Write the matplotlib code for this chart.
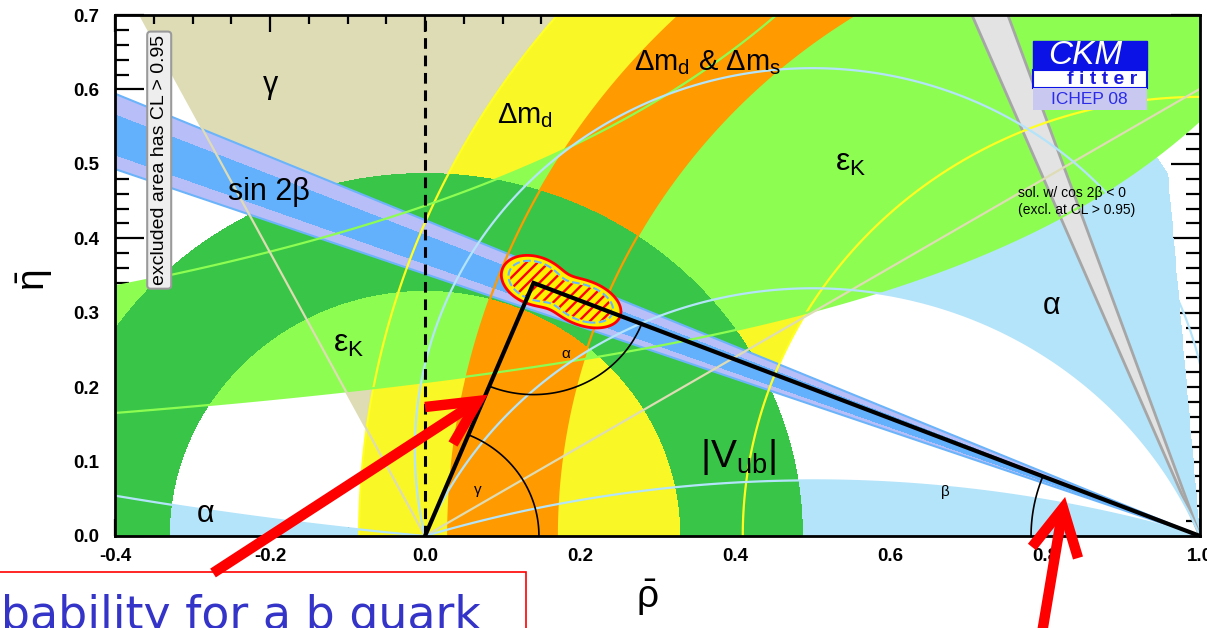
import numpy as np
import matplotlib
matplotlib.use("Agg")
import matplotlib.pyplot as plt
from matplotlib.patches import Rectangle
from matplotlib.ticker import MultipleLocator, FormatStrFormatter

# ---- constraints, (rho-bar, eta-bar) plane -------------------------------
GAMMA_DEG = [31.0, 117.7]                       # wedge from (0,0)
ALPHA_BANDS = [[0.0, 5.5], [68.0, 112.7], [163.0, 180.0]]  # angle seen at P
ALPHA_LINES = [5.5, 77.0, 112.7, 163.0]
ALPHA_STRIP = 0.085                             # white strip along rho = 1
DMD_R = [0.59, 1.085]                           # annulus around (1,0)
DMS_R = [0.83, 0.97]
EPSK_LO = [1.588, 0.3286]                       # eta*(c - rho) = k
EPSK_HI = [1.2386, 0.5496]
VUB_R = [0.33, 0.487]                           # annulus around (0,0)
SIN2B_95 = [19.4, 23.0]                         # beta, ray from (1,0)
SIN2B_68 = [20.1, 22.0]
COS2B_NEG = [67.2, 70.5]                        # gray wedge, beta
APEX = [0.14, 0.34]
FIT_LOBES = [[0.142, 0.343, 0.045, 0.032], [0.205, 0.313, 0.050, 0.030]]
FIT_TILT = -21.6
FIT_LEVELS = [0.55, 0.62, 1.0]                  # hatched, dashed, outline

# annotation overlay (figure pixels)
ARROW_1 = [(213, 573), (478, 401)]
HEAD_1 = [(425, 407), (478, 401), (453, 444)]
ARROW_2 = [(1040, 645), (1063, 508)]
HEAD_2 = [(1032, 547), (1063, 508), (1078, 558)]

C_TAN, C_LBLUE, C_YEL = "#dedcb4", "#b4e4fa", "#f9f725"
C_LGREEN, C_ORANGE, C_DGREEN = "#8dfd52", "#ff9a00", "#38c548"
C_LAV, C_BLUE = "#b8bef8", "#63b1fd"

plt.rcParams.update({
    "font.family": ["Liberation Sans", "DejaVu Sans"],
    "mathtext.fontset": "custom",
    "mathtext.rm": "Liberation Sans",
    "mathtext.it": "Liberation Sans:italic",
    "mathtext.bf": "Liberation Sans:bold",
    "mathtext.default": "rm",
    "hatch.color": "red",
    "hatch.linewidth": 1.7,
    "axes.unicode_minus": False,
})

fig = plt.figure(figsize=(12.07, 6.28), dpi=100)
ax = fig.add_axes([0.0953, 0.1465, 0.8989, 0.8296])
ax.set_xlim(-0.4, 1.0)
ax.set_ylim(0.0, 0.7)

rho = np.linspace(-0.4, 1.0, 1401)
eta = np.linspace(0.0, 0.7, 701)
R, E = np.meshgrid(rho, eta)
gam = np.degrees(np.arctan2(E, R))
bet = np.degrees(np.arctan2(E, 1 - R))
alp = 180 - gam - bet
r0 = np.hypot(R, E)
r1 = np.hypot(R - 1, E)
ek_lo = E * (EPSK_LO[0] - R) - EPSK_LO[1]
ek_hi = EPSK_HI[1] - E * (EPSK_HI[0] - R)
epsk = np.minimum(ek_lo, ek_hi)
alp_m = np.ma.masked_where(R > 1 - ALPHA_STRIP * E, alp)


def fill(field, lo, hi, color, z):
    ax.contourf(R, E, field, levels=[lo, hi], colors=[color], zorder=z)


# ---- filled constraints, back to front ----
fill(gam, GAMMA_DEG[0], GAMMA_DEG[1], C_TAN, 1)
for lo, hi in ALPHA_BANDS:
    fill(alp_m, lo, hi, C_LBLUE, 2)
fill(r1, DMD_R[0], DMD_R[1], C_YEL, 3)
fill(epsk, 0, 10, C_LGREEN, 4)
fill(r1, DMS_R[0], DMS_R[1], C_ORANGE, 5)
fill(r0, VUB_R[0], VUB_R[1], C_DGREEN, 6)
fill(bet, SIN2B_95[0], SIN2B_95[1], C_LAV, 7)
fill(bet, SIN2B_68[0], SIN2B_68[1], C_BLUE, 7.1)
ax.contour(R, E, bet, levels=SIN2B_95, colors="#6cb4fa", linewidths=1.5, zorder=7.2)
fill(bet, COS2B_NEG[0], COS2B_NEG[1], "#e3e3e3", 8)
ax.contour(R, E, bet, levels=COS2B_NEG, colors="#a6a6a6", linewidths=2, zorder=8.1)

# ---- CL contour lines drawn on top ----
lw = 1.6
ax.contour(R, E, r1, levels=DMD_R, colors="#ffff22", linewidths=lw, zorder=9)
ax.contour(R, E, r1, levels=DMS_R, colors=C_ORANGE, linewidths=lw, zorder=9)
ax.contour(R, E, ek_lo, levels=[0], colors=C_LGREEN, linewidths=lw, zorder=9)
ax.contour(R, E, ek_hi, levels=[0], colors=C_LGREEN, linewidths=lw, zorder=9)
ax.contour(R, E, gam, levels=GAMMA_DEG, colors=C_TAN, linewidths=lw, zorder=9)
ax.contour(R, E, alp, levels=ALPHA_LINES, colors=C_LBLUE, linewidths=lw, zorder=9)
ax.axvline(0, color="k", ls=(0, (3.5, 2.2)), lw=2.2, zorder=9.5)

# ---- global fit ----
t = np.radians(FIT_TILT)
qs = []
for cx, cy, a, b in FIT_LOBES:
    u = (R - cx) * np.cos(t) + (E - cy) * np.sin(t)
    v = -(R - cx) * np.sin(t) + (E - cy) * np.cos(t)
    qs.append((u / a) ** 2 + (v / b) ** 2)
fit = -np.log(np.exp(-2.5 * qs[0]) + np.exp(-2.5 * qs[1])) / 2.5
ax.contourf(R, E, fit, levels=[-1, FIT_LEVELS[2]], colors=["#fff200"], zorder=10)
ax.contourf(R, E, fit, levels=[-1, FIT_LEVELS[0]], colors="none",
            hatches=["///"], zorder=10.5)
ax.contour(R, E, fit, levels=[FIT_LEVELS[1]], colors="#6cb4fa",
           linewidths=1.5, linestyles="--", zorder=10.6)
ax.contour(R, E, fit, levels=[FIT_LEVELS[2]], colors="red", linewidths=2, zorder=10.7)

# ---- unitarity triangle and angles ----
ax.plot([0, APEX[0], 1], [0, APEX[1], 0], color="k", lw=3, zorder=12,
        solid_joinstyle="miter")
g_ang = np.degrees(np.arctan2(APEX[1], APEX[0]))
b_ang = np.degrees(np.arctan2(APEX[1], 1 - APEX[0]))
for (cx, cy), rad, a0, a1 in [((0, 0), 0.147, 0, g_ang),
                              ((APEX[0], APEX[1]), 0.15, 180 + g_ang, 360 - b_ang),
                              ((1, 0), 0.218, 180 - b_ang, 180)]:
    ph = np.radians(np.linspace(a0, a1, 100))
    ax.plot(cx + rad * np.cos(ph), cy + rad * np.sin(ph), color="k", lw=1.2, zorder=12)

# ---- labels ----
tk = dict(color="k", zorder=14)
ax.text(-0.2, 0.606, "γ", fontsize=22, ha="center", va="center", **tk)
ax.text(-0.254, 0.452, "sin 2β", fontsize=22, ha="left", va="baseline", **tk)
ax.text(0.093, 0.555, r"Δm$_{\mathrm{d}}$", fontsize=21, ha="left", va="baseline", **tk)
ax.text(0.27, 0.626, r"Δm$_{\mathrm{d}}$ & Δm$_{\mathrm{s}}$", fontsize=21,
        ha="left", va="baseline", **tk)
ax.text(0.529, 0.49, r"ε$_{\mathrm{K}}$", fontsize=23, ha="left", va="baseline", **tk)
ax.text(-0.119, 0.248, r"ε$_{\mathrm{K}}$", fontsize=23, ha="left", va="baseline", **tk)
ax.text(0.808, 0.309, "α", fontsize=22, ha="center", va="center", **tk)
ax.text(-0.283, 0.03, "α", fontsize=22, ha="center", va="center", **tk)
ax.text(0.355, 0.093, r"|V$_{\mathrm{ub}}$|", fontsize=28, ha="left", va="baseline", **tk)
ax.text(0.181, 0.245, "α", fontsize=11, ha="center", va="center", **tk)
ax.text(0.068, 0.062, "γ", fontsize=11, ha="center", va="center", **tk)
ax.text(0.672, 0.059, "β", fontsize=11, ha="center", va="center", **tk)
ax.text(0.765, 0.449, "sol. w/ cos 2β < 0\n(excl. at CL > 0.95)", fontsize=10,
        ha="left", va="center", linespacing=1.25, **tk)
ax.text(-0.343, 0.505, "excluded area has CL > 0.95", rotation=90, fontsize=14,
        ha="center", va="center", zorder=15,
        bbox=dict(boxstyle="round,pad=0.18", fc="#eeeeee", ec="#9a9a9a", lw=1.5))

# CKMfitter logo
ax.add_patch(Rectangle((0.785, 0.626), 0.147, 0.039, fc="#0a12e6", ec="#0a12e6", zorder=15))
ax.add_patch(Rectangle((0.785, 0.602), 0.147, 0.024, fc="white", ec="#0a12e6", lw=1.5, zorder=15))
ax.add_patch(Rectangle((0.785, 0.573), 0.147, 0.029, fc="#c8c8f0", ec="none", zorder=15))
ax.text(0.852, 0.645, "CKM", fontsize=24, style="italic", color="white",
        ha="center", va="center", zorder=16)
ax.text(0.874, 0.613, "f i t t e r", fontsize=14, weight="bold", color="#1a1ae0",
        ha="center", va="center", zorder=16)
ax.text(0.857, 0.587, "ICHEP 08", fontsize=12.5, color="#2b2be8",
        ha="center", va="center", zorder=16)

# ---- axes ----
ax.xaxis.set_major_locator(MultipleLocator(0.2))
ax.xaxis.set_minor_locator(MultipleLocator(0.05))
ax.yaxis.set_major_locator(MultipleLocator(0.1))
ax.yaxis.set_minor_locator(MultipleLocator(0.02))
ax.xaxis.set_major_formatter(FormatStrFormatter("%.1f"))
ax.yaxis.set_major_formatter(FormatStrFormatter("%.1f"))
ax.tick_params(which="both", direction="in", top=True, right=True, width=1.6,
               labelsize=13.5, zorder=20)
ax.tick_params(axis="x", which="major", length=12, pad=9)
ax.tick_params(axis="x", which="minor", length=6.5)
ax.tick_params(axis="y", which="major", length=21, pad=11)
ax.tick_params(axis="y", which="minor", length=10)
for lbl in ax.get_xticklabels() + ax.get_yticklabels():
    lbl.set_fontweight("bold")
for s in ax.spines.values():
    s.set_linewidth(2)
    s.set_zorder(20)
ax.set_xlabel(r"$\bar{\rho}$", fontsize=28, va="center")
ax.set_ylabel(r"$\bar{\eta}$", fontsize=28, va="center")
ax.xaxis.set_label_coords(0.491, -0.118)
ax.yaxis.set_label_coords(-0.074, 0.49)

# ---- slide annotation overlay ----
ov = fig.add_axes([0, 0, 1, 1], zorder=30)
ov.set_xlim(0, 1207)
ov.set_ylim(628, 0)
ov.axis("off")
ov.patch.set_alpha(0)
ov.add_patch(Rectangle((-5, 572), 531, 100, fill=False, ec="red", lw=1.2))
ov.text(481, 629, "Probability for a b quark", ha="right", va="baseline",
        fontsize=33, color="#3434c8", family="DejaVu Sans")
for shaft, head in [(ARROW_1, HEAD_1), (ARROW_2, HEAD_2)]:
    ov.plot(*zip(*shaft), color="red", lw=7.5, solid_capstyle="butt")
    ov.plot(*zip(*head), color="red", lw=7.5, solid_capstyle="butt",
            solid_joinstyle="miter")

fig.savefig("out.png", dpi=100)
